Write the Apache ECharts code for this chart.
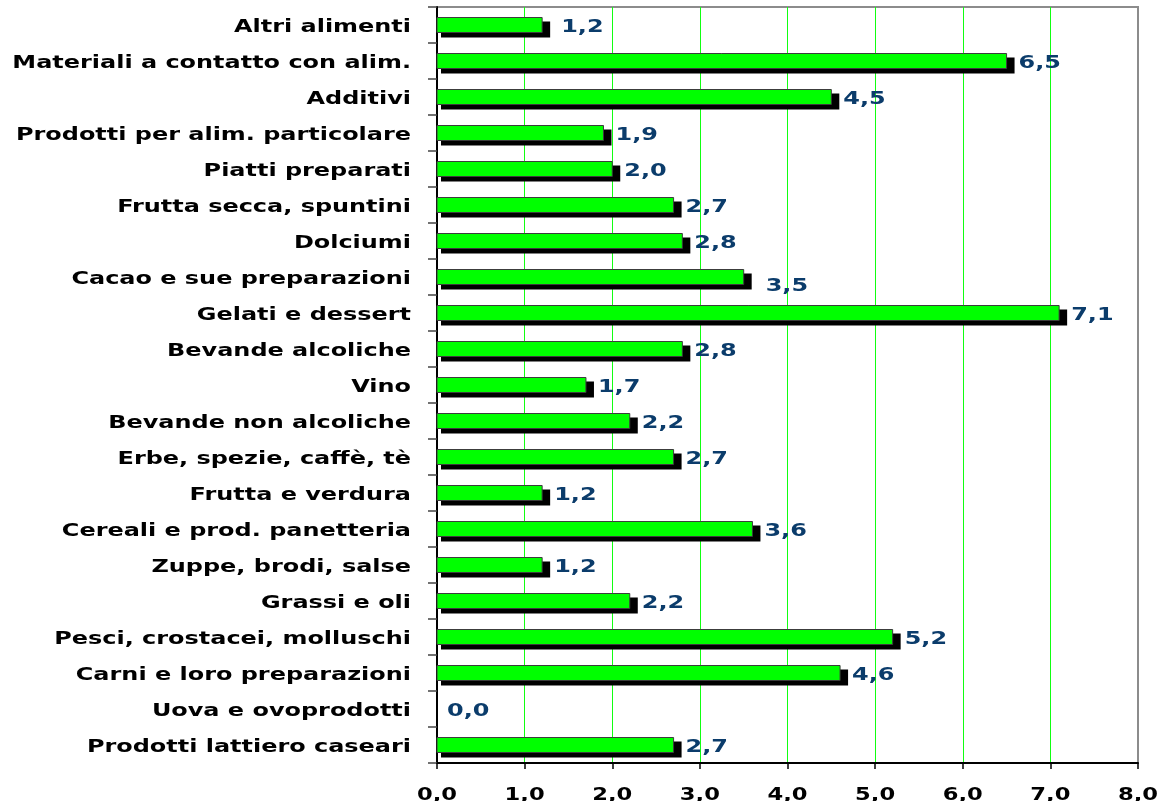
<!DOCTYPE html>
<html>
<head>
<meta charset="utf-8">
<script src="https://cdn.jsdelivr.net/npm/echarts@6/dist/echarts.min.js"></script>
<style>html,body{margin:0;padding:0;background:#fff;}#c{width:1173px;height:801px;}</style>
</head>
<body>
<div id="c"></div>
<script>
// Categories listed top to bottom
var categories = [
  "Altri alimenti",
  "Materiali a contatto con alim.",
  "Additivi",
  "Prodotti per alim. particolare",
  "Piatti preparati",
  "Frutta secca, spuntini",
  "Dolciumi",
  "Cacao e sue preparazioni",
  "Gelati e dessert",
  "Bevande alcoliche",
  "Vino",
  "Bevande non alcoliche",
  "Erbe, spezie, caffè, tè",
  "Frutta e verdura",
  "Cereali e prod. panetteria",
  "Zuppe, brodi, salse",
  "Grassi e oli",
  "Pesci, crostacei, molluschi",
  "Carni e loro preparazioni",
  "Uova e ovoprodotti",
  "Prodotti lattiero caseari"
];
var values = [1.2, 6.5, 4.5, 1.9, 2.0, 2.7, 2.8, 3.5, 7.1, 2.8, 1.7, 2.2, 2.7, 1.2, 3.6, 1.2, 2.2, 5.2, 4.6, 0.0, 2.7];
var xTicks = [0, 1, 2, 3, 4, 5, 6, 7, 8];

// label placement quirks seen in the original
var labelShift = { "Altri alimenti": [7, 0], "Cacao e sue preparazioni": [10, 7] };

var fmt = function (v) { return Number(v).toFixed(1).replace('.', ','); };
var FONT = 'DejaVu Sans';
var STRETCH = 1.33;   // the original's text is horizontally stretched
var BAR_H = 15;

var chart = echarts.init(document.getElementById('c'));
chart.setOption({
  animation: false,
  backgroundColor: '#ffffff',
  grid: { left: 437, right: 35, top: 7, bottom: 38, show: true, borderColor: '#8c8c8c', borderWidth: 2, backgroundColor: 'transparent' },
  xAxis: {
    type: 'value', min: xTicks[0], max: xTicks[xTicks.length - 1], interval: 1,
    axisLine: { show: true, lineStyle: { color: '#000', width: 2 } },
    axisTick: { show: true, length: 6, lineStyle: { color: '#000', width: 1.5 } },
    splitLine: { show: true, showMinLine: false, showMaxLine: false, lineStyle: { color: '#11ff11', width: 1 } },
    axisLabel: { show: false }
  },
  yAxis: {
    type: 'category', data: categories, inverse: true,
    axisLine: { show: true, lineStyle: { color: '#000', width: 2 } },
    axisTick: { show: true, length: 9, lineStyle: { color: '#444', width: 1.5 } },
    axisLabel: { show: false }
  },
  series: [
    {
      // bars with their drop shadow and value labels
      type: 'custom', name: 'valori', clip: false,
      encode: { x: 0, y: 1 },
      data: values.map(function (v, i) { return [v, i]; }),
      renderItem: function (params, api) {
        var v = api.value(0), c = api.value(1);
        var p0 = api.coord([0, c]), p1 = api.coord([v, c]);
        var w = p1[0] - p0[0];
        var shift = labelShift[categories[c]] || [0, 0];
        var kids = [];
        if (w > 0) {
          kids.push({ type: 'rect', shape: { x: p0[0] + 4, y: p0[1] - BAR_H / 2 + 4, width: w + 4, height: BAR_H + 1 }, style: { fill: '#000' } });
          kids.push({ type: 'rect', shape: { x: p0[0], y: p0[1] - BAR_H / 2, width: w, height: BAR_H }, style: { fill: '#00ff00', stroke: '#3c3c3c', lineWidth: 1 } });
        }
        kids.push({
          type: 'text', x: p1[0] + (w > 0 ? 12 : 10) + shift[0], y: p0[1] + 2 + shift[1], scaleX: STRETCH,
          style: { text: fmt(v), align: 'left', verticalAlign: 'middle', fill: '#0b3c6b', fontFamily: FONT, fontWeight: 'bold', fontSize: 18 }
        });
        return { type: 'group', children: kids };
      }
    },
    {
      // category labels on the left
      type: 'custom', name: 'categorie', clip: false, silent: true,
      encode: { x: 0, y: 1 },
      data: categories.map(function (c, i) { return [0, i]; }),
      renderItem: function (params, api) {
        var c = api.value(1);
        var p = api.coord([0, c]);
        return {
          type: 'text', x: p[0] - 26, y: p[1] + 2, scaleX: STRETCH,
          style: { text: categories[c], align: 'right', verticalAlign: 'middle', fill: '#000', fontFamily: FONT, fontWeight: 'bold', fontSize: 18 }
        };
      }
    },
    {
      // x axis tick labels
      type: 'custom', name: 'scala', clip: false, silent: true,
      encode: { x: 0, y: 1 },
      data: xTicks.map(function (t) { return [t, categories.length - 1]; }),
      renderItem: function (params, api) {
        var t = api.value(0);
        var p = api.coord([t, api.value(1)]);
        var band = api.size([0, 1])[1];
        return {
          type: 'text', x: p[0], y: p[1] + band / 2 + 33, scaleX: 1.33,
          style: { text: fmt(t), align: 'center', verticalAlign: 'middle', fill: '#000', fontFamily: FONT, fontWeight: 'bold', fontSize: 17 }
        };
      }
    }
  ]
});
</script>
</body>
</html>
